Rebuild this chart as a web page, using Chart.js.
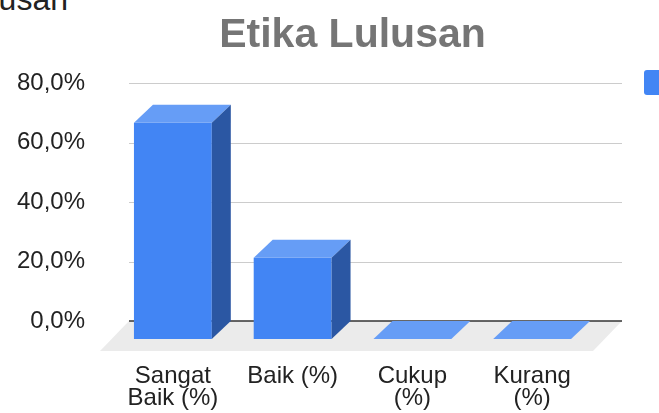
<!DOCTYPE html>
<html>
<head>
<meta charset="utf-8">
<script src="https://cdn.jsdelivr.net/npm/chart.js@4.4.0/dist/chart.umd.min.js"></script>
<style>
	html, body { margin: 0; padding: 0; background: #fff; overflow: hidden; }
	#wrap { position: relative; width: 659px; height: 413px; }
	#chart_box { position: absolute; left: 0; top: 0; width: 659px; height: 413px; }
	#doc_heading {
		position: absolute; right: 591px; top: -17px;
		font: 32px/32px "Liberation Sans", Arial, sans-serif; color: #222;
		white-space: nowrap;
	}
</style>
</head>
<body>
<div id="wrap">
	<div id="doc_heading">Etika Lulusan</div>
	<div id="chart_box"><canvas id="chart-area"></canvas></div>
</div>
<script>
// data
var categories = ['Sangat Baik (%)', 'Baik (%)', 'Cukup (%)', 'Kurang (%)'];
var tickLabels = [['Sangat', 'Baik (%)'], 'Baik (%)', ['Cukup', '(%)'], ['Kurang', '(%)']];
var values = [72.7, 27.3, 0, 0];
var yTicks = [0, 20, 40, 60, 80];
var seriesName = 'Etika Lulusan';
var chartTitle = 'Etika Lulusan';

var FONT = '"Liberation Sans", Arial, sans-serif';
var DX = 19, DY = 18;   // kedalaman 3D

function fmtPct(v){
	return v.toFixed(1).replace('.', ',') + '%';
}

// gambar judul, lantai, grid, sisi atas & samping balok
var bar3d = {
	id: 'bar3d',
	beforeDatasetsDraw: function(chart){
		var ctx = chart.ctx;
		var ys = chart.scales.y;
		var area = chart.chartArea;
		var x0 = area.left - 3, x1 = area.right + 11;
		var y0 = ys.getPixelForValue(0);

		ctx.save();
		// grid
		ctx.strokeStyle = '#cccccc';
		ctx.lineWidth = 1.2;
		for (var i = 0; i < yTicks.length; i++) {
			if (yTicks[i] === 0) continue;
			var y = Math.round(ys.getPixelForValue(yTicks[i])) + 0.5;
			ctx.beginPath();
			ctx.moveTo(x0, y);
			ctx.lineTo(x1, y);
			ctx.stroke();
		}
		// lantai
		ctx.fillStyle = '#ebebeb';
		ctx.beginPath();
		ctx.moveTo(x0, y0);
		ctx.lineTo(x1, y0);
		ctx.lineTo(x1 - 29, y0 + 30);
		ctx.lineTo(x0 - 29, y0 + 30);
		ctx.closePath();
		ctx.fill();
		// garis sumbu
		ctx.strokeStyle = '#333333';
		ctx.lineWidth = 1.5;
		ctx.beginPath();
		ctx.moveTo(x0, y0);
		ctx.lineTo(x1, y0);
		ctx.stroke();
		ctx.restore();

		// muka depan digeser ke depan
		ctx.save();
		ctx.translate(-DX, DY);
	},
	afterDatasetsDraw: function(chart){
		var ctx = chart.ctx;
		ctx.restore();
		var meta = chart.getDatasetMeta(0);
		ctx.save();
		for (var i = 0; i < meta.data.length; i++) {
			var el = meta.data[i];
			var L = el.x - el.width / 2 - DX;
			var R = el.x + el.width / 2 - DX;
			var T = el.y + DY;
			var B = el.base + DY;
			// atas
			ctx.fillStyle = '#669df6';
			ctx.beginPath();
			ctx.moveTo(L, T);
			ctx.lineTo(L + DX, T - DY);
			ctx.lineTo(R + DX, T - DY);
			ctx.lineTo(R, T);
			ctx.closePath();
			ctx.fill();
			// samping
			if (B - T > 0.5) {
				ctx.fillStyle = '#2b57a3';
				ctx.beginPath();
				ctx.moveTo(R, T);
				ctx.lineTo(R + DX, T - DY);
				ctx.lineTo(R + DX, B - DY);
				ctx.lineTo(R, B);
				ctx.closePath();
				ctx.fill();
			}
		}
		ctx.restore();
	},
	afterDraw: function(chart){
		var ctx = chart.ctx;
		ctx.save();
		// judul
		ctx.fillStyle = '#757575';
		ctx.font = 'bold 41px ' + FONT;
		ctx.textAlign = 'center';
		ctx.textBaseline = 'alphabetic';
		ctx.fillText(chartTitle, 352.5, 47);
		// legenda (terpotong di kanan)
		ctx.fillStyle = '#4285f4';
		ctx.beginPath();
		ctx.roundRect(644, 70, 25, 25, 3);
		ctx.fill();
		ctx.fillStyle = '#222';
		ctx.font = '24px ' + FONT;
		ctx.textAlign = 'left';
		ctx.textBaseline = 'middle';
		ctx.fillText(chart.data.datasets[0].label, 677, 83);
		ctx.restore();
	}
};

var config = {
	type: 'bar',
	data: {
		labels: categories,
		datasets: [{
			label: seriesName,
			data: values,
			backgroundColor: '#4285f4',
			borderWidth: 0,
			barPercentage: 0.65,
			categoryPercentage: 1.0,
			clip: false
		}]
	},
	options: {
		responsive: true,
		maintainAspectRatio: false,
		animation: false,
		layout: { padding: { left: 0, right: 48, top: 83, bottom: 0 } },
		plugins: {
			legend: { display: false },
			tooltip: { enabled: false },
			title: { display: false }
		},
		scales: {
			x: {
				grid: { display: false, drawTicks: false },
				border: { display: false },
				afterFit: function(s){ s.height = 92; },
				ticks: {
					color: '#222',
					font: { family: FONT, size: 24, lineHeight: 0.92 },
					padding: 44,
					labelOffset: -DX,
					maxRotation: 0,
					autoSkip: false,
					callback: function(v, i){ return tickLabels[i]; }
				}
			},
			y: {
				min: 0,
				max: 80,
				grid: { display: false, drawTicks: false },
				border: { display: false },
				afterFit: function(s){ s.width = 132; },
				afterBuildTicks: function(s){
					s.ticks = yTicks.map(function(v){ return { value: v }; });
				},
				ticks: {
					color: '#222',
					font: { family: FONT, size: 24 },
					padding: 47,
					callback: function(v){ return fmtPct(v); }
				}
			}
		}
	},
	plugins: [bar3d]
};

var ctx = document.getElementById('chart-area').getContext('2d');
window.myBar = new Chart(ctx, config);
</script>
</body>
</html>
